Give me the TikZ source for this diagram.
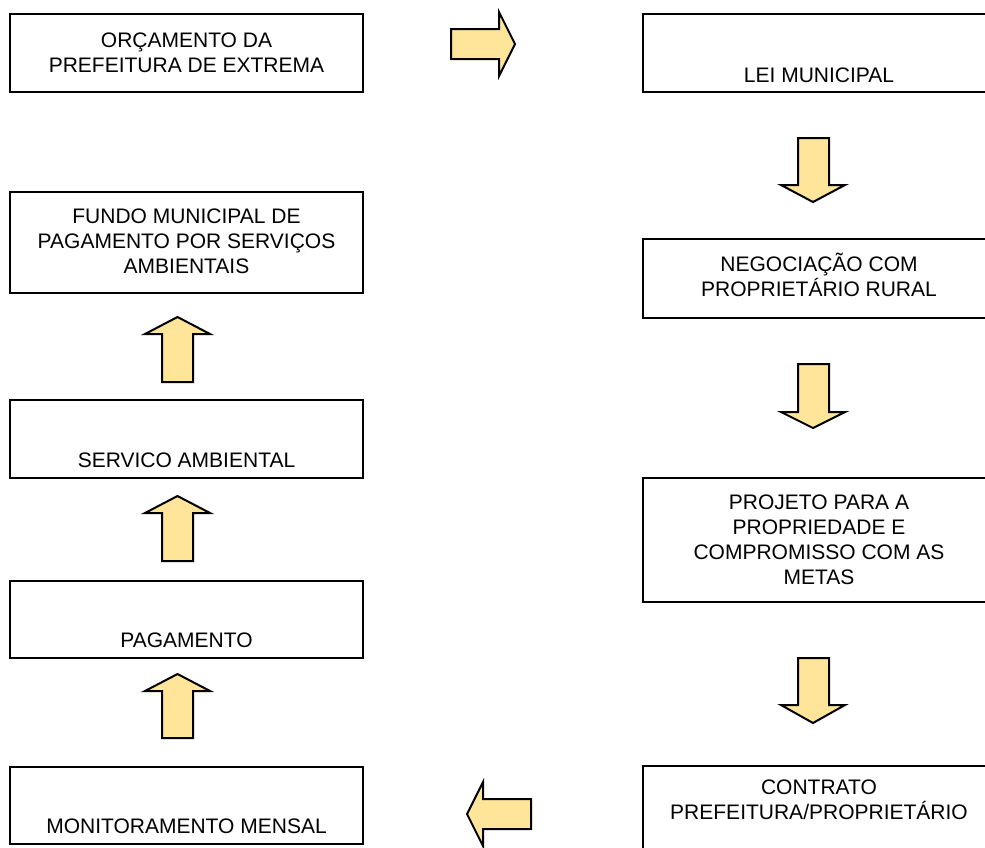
\documentclass[tikz,border=0pt]{standalone}
\usepackage{fontspec}
\setmainfont{Liberation Sans}
\definecolor{arrowfill}{RGB}{255,229,153}

\tikzset{every picture/.style={line width=0.75pt}}
\tikzset{
  boxline/.style={draw=black, line width=1.5},
  blockarrow/.style={draw=black, fill=arrowfill, line width=1.5, line join=miter},
  txt/.style={inner sep=0.75pt, align=center, font=\fontsize{15.75}{18.75}\selectfont}
}

\begin{document}
\begin{tikzpicture}[x=0.75pt,y=0.75pt,yscale=-1,xscale=1]
\useasboundingbox (0,0) rectangle (985,847);
\clip (0,0) rectangle (985,847);

%Shape: Rectangle (left column)
\draw [boxline] (10,14) rectangle (363,92) ;
%Shape: Rectangle
\draw [boxline] (10,192) rectangle (363,293) ;
%Shape: Rectangle
\draw [boxline] (10,400) rectangle (363,478) ;
%Shape: Rectangle
\draw [boxline] (10,581) rectangle (363,658) ;
%Shape: Rectangle
\draw [boxline] (10,767) rectangle (363,844) ;
%Shape: Rectangle (right column)
\draw [boxline] (643,14) rectangle (995,92) ;
%Shape: Rectangle
\draw [boxline] (643,239) rectangle (995,318) ;
%Shape: Rectangle
\draw [boxline] (643,478) rectangle (995,602) ;
%Shape: Rectangle
\draw [boxline] (643,766) rectangle (995,860) ;

%Right Arrow
\draw [blockarrow] (451,29) -- (499,29) -- (499,12) -- (515,44) -- (499,76) -- (499,59) -- (451,59) -- cycle ;
%Down Arrow
\draw [blockarrow] (798,138) -- (829,138) -- (829,185) -- (845,185) -- (813,202) -- (781,185) -- (798,185) -- cycle ;
%Down Arrow
\draw [blockarrow] (798,364) -- (829,364) -- (829,412) -- (845,412) -- (813,428) -- (781,412) -- (798,412) -- cycle ;
%Down Arrow
\draw [blockarrow] (798,658) -- (829,658) -- (829,705) -- (845,705) -- (813,723) -- (781,705) -- (798,705) -- cycle ;
%Left Arrow
\draw [blockarrow] (531,799) -- (483,799) -- (483,782) -- (467,814) -- (483,846) -- (483,829) -- (531,829) -- cycle ;
%Up Arrow
\draw [blockarrow] (162,382) -- (193,382) -- (193,334) -- (210,334) -- (177.5,317) -- (145,334) -- (162,334) -- cycle ;
%Up Arrow
\draw [blockarrow] (162,561) -- (193,561) -- (193,513) -- (210,513) -- (177.5,496) -- (145,513) -- (162,513) -- cycle ;
%Up Arrow
\draw [blockarrow] (162,738) -- (193,738) -- (193,691) -- (210,691) -- (177.5,674) -- (145,691) -- (162,691) -- cycle ;

% Text Node
\node [txt] (orcamento) at (186.5,53) {ORÇAMENTO DA\\PREFEITURA DE EXTREMA};
% Text Node
\node [txt] (fundo) at (186.5,241) {FUNDO MUNICIPAL DE\\PAGAMENTO POR SERVIÇOS\\AMBIENTAIS};
% Text Node
\node [txt] (servico) at (186.5,460.5) {SERVICO AMBIENTAL};
% Text Node
\node [txt] (pagamento) at (186.5,640.5) {PAGAMENTO};
% Text Node
\node [txt] (monitoramento) at (186.5,826) {MONITORAMENTO MENSAL};
% Text Node
\node [txt] (lei) at (819,75) {LEI MUNICIPAL};
% Text Node
\node [txt] (negociacao) at (819,275) {NEGOCIAÇÃO COM\\PROPRIETÁRIO RURAL};
% Text Node
\node [txt] (projeto) at (819,540) {PROJETO PARA A\\PROPRIEDADE E\\COMPROMISSO COM AS\\METAS};
% Text Node
\node [txt] (contrato) at (819,800) {CONTRATO\\PREFEITURA/PROPRIETÁRIO};

\end{tikzpicture}
\end{document}
